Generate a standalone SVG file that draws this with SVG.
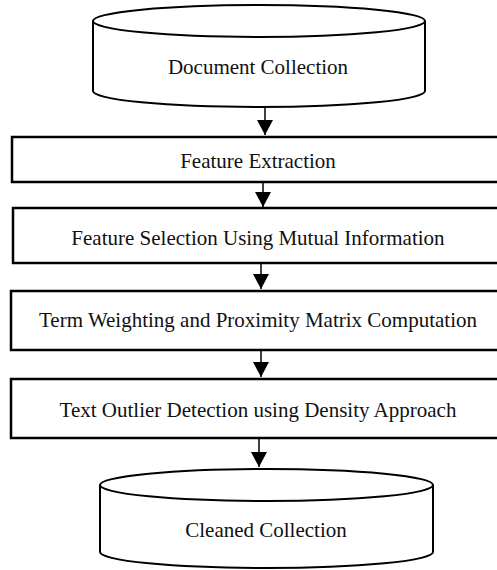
<svg xmlns="http://www.w3.org/2000/svg" width="497" height="570" viewBox="0 0 497 570">
<style>
.shape{fill:#fff;stroke:#000;stroke-width:2}
.box{fill:#fff;stroke:#000;stroke-width:2.5}
.lbl{font-family:"Liberation Serif","Times New Roman",serif;font-size:21px;fill:#111;text-anchor:middle}
.conn{stroke:#000;stroke-width:1.5;fill:none}
</style>
<defs>
<marker id="ah" markerWidth="16" markerHeight="16" refX="15" refY="8" orient="auto" markerUnits="userSpaceOnUse">
<path d="M0,0 L15,8 L0,16 Z" fill="#000"/>
</marker>
</defs>
<rect width="497" height="570" fill="#fff"/>
<g id="n1">
<path class="shape" d="M93,21 L93,91 A166,16 0 0 0 425,91 L425,21 A166,16 0 0 0 93,21 Z"/>
<path class="shape" d="M93,21 A166,16 0 0 0 425,21" fill="none"/>
<text class="lbl" x="258" y="74">Document Collection</text>
</g>
<g id="n2">
<rect class="box" x="12" y="137" width="500" height="45"/>
<text class="lbl" x="258" y="168">Feature Extraction</text>
</g>
<g id="n3">
<rect class="box" x="13" y="208" width="500" height="55"/>
<text class="lbl" x="258" y="245">Feature Selection Using Mutual Information</text>
</g>
<g id="n4">
<rect class="box" x="11" y="291" width="500" height="59"/>
<text class="lbl" x="258" y="327">Term Weighting and Proximity Matrix Computation</text>
</g>
<g id="n5">
<rect class="box" x="11" y="379" width="500" height="59"/>
<text class="lbl" x="258" y="417">Text Outlier Detection using Density Approach</text>
</g>
<g id="n6">
<path class="shape" d="M100,485 L100,552 A166.5,16 0 0 0 433,552 L433,485 A166.5,16 0 0 0 100,485 Z"/>
<path class="shape" d="M100,485 A166.5,16 0 0 0 433,485" fill="none"/>
<text class="lbl" x="266" y="537">Cleaned Collection</text>
</g>
<g id="connectors">
<line class="conn" x1="265" y1="107" x2="265" y2="135" marker-end="url(#ah)"/>
<line class="conn" x1="263" y1="183" x2="263" y2="207" marker-end="url(#ah)"/>
<line class="conn" x1="261" y1="264" x2="261" y2="289" marker-end="url(#ah)"/>
<line class="conn" x1="261" y1="351" x2="261" y2="377" marker-end="url(#ah)"/>
<line class="conn" x1="259" y1="439" x2="259" y2="467" marker-end="url(#ah)"/>
</g>
</svg>
